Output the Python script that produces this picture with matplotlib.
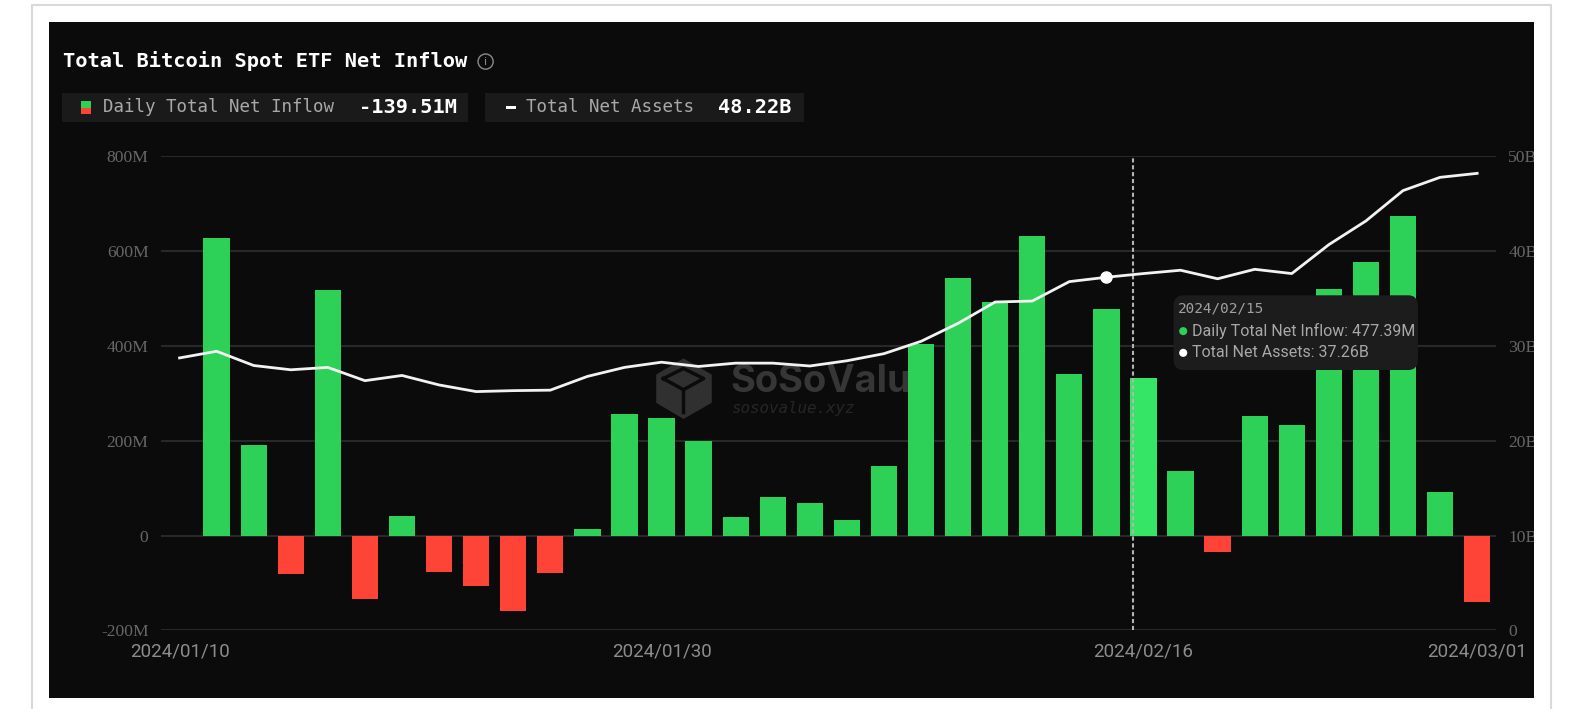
import matplotlib
matplotlib.use("Agg")
import matplotlib.pyplot as plt
from matplotlib.patches import Rectangle, FancyBboxPatch, Circle, Polygon
from matplotlib.transforms import Bbox

dates = ["2024/01/10","2024/01/11","2024/01/12","2024/01/16","2024/01/17","2024/01/18",
         "2024/01/19","2024/01/22","2024/01/23","2024/01/24","2024/01/25","2024/01/26",
         "2024/01/29","2024/01/30","2024/01/31","2024/02/01","2024/02/02","2024/02/05",
         "2024/02/06","2024/02/07","2024/02/08","2024/02/09","2024/02/12","2024/02/13",
         "2024/02/14","2024/02/15","2024/02/16","2024/02/20","2024/02/21","2024/02/22",
         "2024/02/23","2024/02/26","2024/02/27","2024/02/28","2024/02/29","2024/03/01"]
net_inflow = [0, 628, 192, -80, 518, -134, 42, -77, -106, -158, -79, 15, 256, 249, 199, 39,
              81, 69, 34, 147, 404, 543, 494, 632, 341, 477.39, 332, 136, -34, 252, 233,
              520, 578, 674, 93, -139.51]
net_assets = [28.75, 29.45, 27.95, 27.5, 27.75, 26.35, 26.9, 25.9, 25.2, 25.3, 25.35, 26.8,
              27.75, 28.3, 27.85, 28.2, 28.2, 27.9, 28.45, 29.2, 30.5, 32.4, 34.65, 34.75,
              36.8, 37.26, 37.65, 38.0, 37.1, 38.1, 37.65, 40.7, 43.2, 46.4, 47.8, 48.22]
left_ticks = [-200, 0, 200, 400, 600, 800]
left_labels = ["-200M", "0", "200M", "400M", "600M", "800M"]
right_ticks = [0, 10, 20, 30, 40, 50]
right_labels = ["0", "10B", "20B", "30B", "40B", "50B"]
x_tick_dates = ["2024/01/10", "2024/01/30", "2024/02/16", "2024/03/01"]
hover_index = 25
highlight_index = 26
crosshair_pos = 25.72

PX_W, PX_H = 1583, 709
W = 1568.0                     # layout units used below
H = PX_H * W / PX_W
SCALE = PX_W / W
GREEN, GREEN_HI, RED = "#2ed158", "#35e566", "#fe4436"
PANEL = "#0b0b0b"
MONO = "DejaVu Sans Mono"

fig = plt.figure(figsize=(PX_W / 100, PX_H / 100), dpi=100, facecolor="white")

def pixel_axes(z):
    a = fig.add_axes([0, 0, 1, 1], zorder=z)
    a.set_xlim(0, W)
    a.set_ylim(H, 0)
    a.axis("off")
    a.patch.set_alpha(0)
    return a

# Page frame, panel and watermark
bg = pixel_axes(0)
bg.add_patch(Rectangle((32, 5), 1504, 720, fc="white", ec="#d9d9d9", lw=1.5))
bg.add_patch(Rectangle((49, 22), 1470, 669, fc=PANEL, ec="none"))
bg.add_patch(Polygon([(677, 355), (705, 371), (705, 399), (677, 415), (650, 399), (650, 371)],
                     closed=True, fc="#303030", ec="none"))
bg.plot([657, 677, 697, 677, 657], [375, 386, 375, 365, 375], color=PANEL, lw=2.5)
bg.plot([677, 677], [386, 408], color=PANEL, lw=2.5)
bg.text(723, 378, "SoSoValue", color="#363636", fontsize=27.4, fontweight="bold",
        family="Inter", va="center", ha="left")
bg.text(724, 405, "sosovalue.xyz", color="#262626", fontsize=11.4, style="italic",
        family=MONO, va="center", ha="left")

# Chart
L, R, T, B = 159.5, 1481.5, 155, 624.5
ax = fig.add_axes([L / W, 1 - B / H, (R - L) / W, (B - T) / H], zorder=1)
ax.patch.set_alpha(0)
ax2 = ax.twinx()
ax2.set_zorder(2)
ax2.patch.set_alpha(0)

xs = list(range(len(dates)))
bar_x = xs[1:]
bar_v = net_inflow[1:]
colors = [GREEN_HI if i == highlight_index else (GREEN if v >= 0 else RED)
          for i, v in zip(bar_x, bar_v)]
ax.bar(bar_x, bar_v, width=0.71, color=colors, zorder=3)
ax.set_xlim(-0.5, len(dates) - 0.5)
ax.set_ylim(left_ticks[0], left_ticks[-1])
ax.set_yticks(left_ticks, left_labels)
ax.grid(axis="y", color="#282828", lw=1.5, zorder=0)
ax.set_axisbelow(True)
ax.set_xticks([dates.index(d) for d in x_tick_dates], x_tick_dates)
ax.tick_params(axis="x", length=0, pad=9, labelsize=13.5, labelcolor="#8c8c8c")
ax.tick_params(axis="y", length=0, pad=9, labelsize=12.6, labelcolor="#666666")
for t in ax.get_yticklabels():
    t.set_family("Liberation Serif")
for t in ax.get_xticklabels():
    t.set_family("Roboto")
for s in ax.spines.values():
    s.set_visible(False)

ax.axvline(crosshair_pos, color="#b4b4b4", lw=1.5, ls=(0, (2, 1.3)), zorder=4)

ax2.plot(xs, net_assets, color="#f2f2f2", lw=2, zorder=5, solid_joinstyle="round")
ax2.plot([hover_index], [net_assets[hover_index]], "o", color="white", ms=8, zorder=6)
ax2.set_ylim(right_ticks[0], right_ticks[-1])
ax2.set_yticks(right_ticks, right_labels)
ax2.tick_params(axis="y", length=0, pad=9, labelsize=12.6, labelcolor="#666666")
panel_clip = Bbox([[49 * SCALE, 0], [1519 * SCALE, PX_H]])
for t in ax2.get_yticklabels():
    t.set_family("Liberation Serif")
    t.set_clip_box(panel_clip)
    t.set_clip_on(True)
for s in ax2.spines.values():
    s.set_visible(False)

# Header, legend and tooltip
top = pixel_axes(3)
top.text(62, 60.5, "Total Bitcoin Spot ETF Net Inflow", color="white", fontsize=14.66,
         fontweight="bold", family=MONO, va="center", ha="left")
top.add_patch(Circle((481, 61), 7.5, fc="none", ec="#8a8a8a", lw=1))
top.text(481, 61, "i", color="#8a8a8a", fontsize=8, ha="center", va="center")

top.add_patch(Rectangle((61, 92), 403, 29, fc="#1a1a1a", ec="none"))
top.add_patch(Rectangle((480, 92), 316, 29, fc="#1a1a1a", ec="none"))
top.add_patch(Rectangle((80, 100), 10, 6.5, fc=GREEN, ec="none"))
top.add_patch(Rectangle((80, 106.5), 10, 6.5, fc=RED, ec="none"))
top.add_patch(Rectangle((501, 105), 10, 2.5, fc="white", ec="none"))
top.text(102, 106, "Daily Total Net Inflow", color="#a8a8a8", fontsize=12.62, family=MONO,
         va="center", ha="left")
top.text(356, 106, f"{net_inflow[-1]:.2f}M", color="white", fontsize=14.6, fontweight="bold",
         family=MONO, va="center", ha="left")
top.text(521, 106, "Total Net Assets", color="#a8a8a8", fontsize=12.62, family=MONO,
         va="center", ha="left")
top.text(711, 106, f"{net_assets[-1]:.2f}B", color="white", fontsize=14.6, fontweight="bold",
         family=MONO, va="center", ha="left")

top.add_patch(FancyBboxPatch((1168, 298), 231, 63, boxstyle="round,pad=0,rounding_size=4",
                             fc="#1c1c1c", ec="#1c1c1c", lw=8))
top.text(1167, 306, dates[hover_index], color="#a0a0a0", fontsize=10.4, family=MONO,
         va="center", ha="left")
top.add_patch(Circle((1172, 328), 4, fc=GREEN, ec="none"))
top.text(1181, 328, f"Daily Total Net Inflow: {net_inflow[hover_index]:.2f}M", color="#a8a8a8",
         fontsize=11.5, family="Roboto", va="center", ha="left")
top.add_patch(Circle((1172, 349.5), 4, fc="white", ec="none"))
top.text(1181, 349.5, f"Total Net Assets: {net_assets[hover_index]:.2f}B", color="#a8a8a8",
         fontsize=11.5, family="Roboto", va="center", ha="left")

fig.savefig("out.png", dpi=100, facecolor="white")
